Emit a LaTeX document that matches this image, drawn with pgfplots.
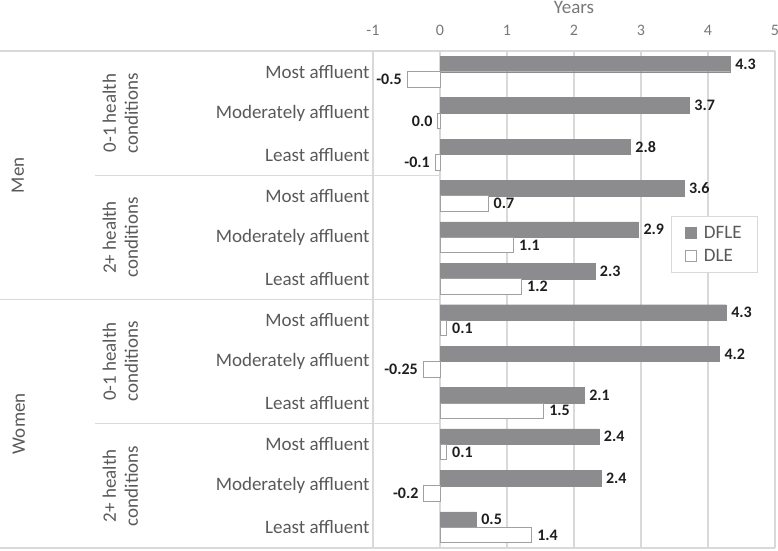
\documentclass[border=0pt]{standalone}
\usepackage{pgfplots}
\pgfplotsset{compat=1.18}
\usepackage{pgfplotstable}
\usepackage{fontspec}
\setmainfont{Carlito}

\definecolor{barfill}{RGB}{140,140,142}
\definecolor{baredge}{RGB}{160,160,160}
\definecolor{gridc}{RGB}{217,217,217}
\definecolor{labc}{RGB}{89,89,89}
\definecolor{tickc}{RGB}{120,120,120}
\definecolor{valc}{RGB}{30,30,30}

\pgfplotsset{
  sqlegend/.style={legend image code/.code={%
    \draw[##1, line width=0.8pt] (0pt,-5.5pt) rectangle (11pt,5.5pt);
    \path (16pt,0pt);}},
  labright/.style={every node near coord/.append style={anchor=west}},
  lableft/.style={every node near coord/.append style={anchor=east}},
}

% rows top to bottom: Men 0-1, Men 2+, Women 0-1, Women 2+ (most, moderately, least affluent)
\pgfplotstableread{
row val lab
0  4.33 4.3
1  3.72 3.7
2  2.84 2.8
3  3.64 3.6
4  2.96 2.9
5  2.31 2.3
6  4.27 4.3
7  4.17 4.2
8  2.15 2.1
9  2.37 2.4
10 2.40 2.4
11 0.54 0.5
}\dfle

% DLE, positive and negative values kept apart for the label side
\pgfplotstableread{
row val lab
3  0.72  0.7
4  1.10  1.1
5  1.22  1.2
6  0.10  0.1
8  1.55  1.5
9  0.10  0.1
11 1.37  1.4
}\dlepos

\pgfplotstableread{
row val lab
0  -0.49 -0.5
1  -0.03 0.0
2  -0.07 -0.1
7  -0.25 -0.25
10 -0.24 -0.2
}\dleneg

\newcommand\bigf{\fontsize{19}{23}\selectfont}
\newcommand\smallf{\fontsize{16}{19}\selectfont}

\begin{document}
\begin{tikzpicture}
\useasboundingbox (0,0) rectangle (778pt,550pt);
\begin{axis}[
    at={(373pt,2pt)}, anchor=south west,
    scale only axis, width=402pt, height=497pt,
    xbar, bar width=15.5pt,
    xmin=-1, xmax=5, ymin=-0.5, ymax=11.5,
    y dir=reverse,
    axis line style={draw=none},
    major tick length=0pt,
    xtick={-1,0,1,2,3,4,5},
    xticklabels={-1,0,1,2,3,4,5},
    xticklabel pos=upper,
    x tick label style={font=\smallf, text=tickc, anchor=base, yshift=16pt},
    xmajorgrids,
    grid style={draw=gridc, line width=1.2pt},
    ytick={0,...,11},
    yticklabels={Most affluent, Moderately affluent, Least affluent,
                 Most affluent, Moderately affluent, Least affluent,
                 Most affluent, Moderately affluent, Least affluent,
                 Most affluent, Moderately affluent, Least affluent},
    y tick label style={font=\bigf, text=labc},
    nodes near coords,
    point meta=explicit symbolic,
    every node near coord/.append style={font=\bfseries\smallf, text=valc, inner sep=5pt},
    clip=false,
    legend style={at={(0.958,0.668)}, anchor=north east,
        draw=gridc, line width=1pt, font=\bigf, text=labc,
        row sep=5pt, inner xsep=14pt, inner ysep=8pt,
        nodes={inner sep=2pt}},
    legend cell align=left,
]
\addplot[fill=barfill, draw=barfill, bar shift=7.75pt, sqlegend, labright]
    table[x=val, y=row, meta=lab] {\dfle};
\addlegendentry{DFLE}
\addplot[fill=white, draw=baredge, line width=1pt, bar shift=-7.75pt, sqlegend, labright]
    table[x=val, y=row, meta=lab] {\dlepos};
\addlegendentry{DLE}
\addplot[fill=white, draw=baredge, line width=1pt, bar shift=-7.75pt, lableft, forget plot]
    table[x=val, y=row, meta=lab] {\dleneg};

% frame lines and category separators
\draw[gridc, line width=1.2pt] ([xshift=-373pt]axis cs:-1,-0.5) -- (axis cs:5,-0.5);
\draw[gridc, line width=1.2pt] ([xshift=-373pt]axis cs:-1,11.5) -- (axis cs:5,11.5);
\draw[gridc, line width=1.2pt] ([xshift=-278pt]axis cs:-1,2.5) -- (axis cs:0,2.5);
\draw[gridc, line width=1.2pt] ([xshift=-373pt]axis cs:-1,5.5) -- (axis cs:0,5.5);
\draw[gridc, line width=1.2pt] ([xshift=-278pt]axis cs:-1,8.5) -- (axis cs:0,8.5);

% axis title
\node[anchor=base, font=\bigf, text=tickc] at ([yshift=38pt]axis cs:2,-0.5) {Years};

% group labels
\node[rotate=90, anchor=base, font=\bigf, text=labc] at ([xshift=-349pt]axis cs:-1,2.5) {Men};
\node[rotate=90, anchor=base, font=\bigf, text=labc] at ([xshift=-348pt]axis cs:-1,8.5) {Women};
\node[rotate=90, anchor=base, font=\bigf, text=labc] at ([xshift=-257pt]axis cs:-1,1) {0-1 health};
\node[rotate=90, anchor=base, font=\bigf, text=labc] at ([xshift=-235pt]axis cs:-1,1) {conditions};
\node[rotate=90, anchor=base, font=\bigf, text=labc] at ([xshift=-257pt]axis cs:-1,4) {2+ health};
\node[rotate=90, anchor=base, font=\bigf, text=labc] at ([xshift=-235pt]axis cs:-1,4) {conditions};
\node[rotate=90, anchor=base, font=\bigf, text=labc] at ([xshift=-257pt]axis cs:-1,7) {0-1 health};
\node[rotate=90, anchor=base, font=\bigf, text=labc] at ([xshift=-235pt]axis cs:-1,7) {conditions};
\node[rotate=90, anchor=base, font=\bigf, text=labc] at ([xshift=-257pt]axis cs:-1,10) {2+ health};
\node[rotate=90, anchor=base, font=\bigf, text=labc] at ([xshift=-235pt]axis cs:-1,10) {conditions};
\end{axis}
\end{tikzpicture}
\end{document}
